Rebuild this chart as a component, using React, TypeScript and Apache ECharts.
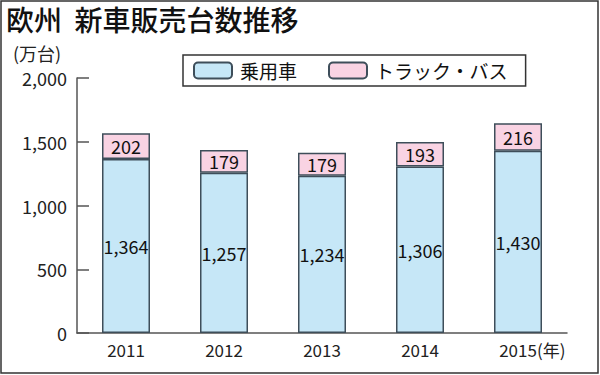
import React, { useEffect, useRef } from "react";
import * as echarts from "echarts";

const years = ["2011", "2012", "2013", "2014", "2015"];
const passengerCars = [1364, 1257, 1234, 1306, 1430];
const trucksBuses = [202, 179, 179, 193, 216];
const yTicks = [0, 500, 1000, 1500, 2000];

const FONT = '"Noto Sans CJK JP", "Noto Sans", sans-serif';

export default function App() {
  const ref = useRef<HTMLDivElement>(null);
  useEffect(() => {
    if (!ref.current) return;
    const chart = echarts.init(ref.current, null, { renderer: "svg" });
    const fmt = (v: number) => v.toLocaleString("en-US");
    chart.setOption({
      animation: false,
      backgroundColor: "#ffffff",
      textStyle: { fontFamily: FONT },
      title: {
        text: "欧州  新車販売台数推移",
        left: 6,
        top: 4,
        padding: 0,
        textStyle: { fontSize: 28, fontWeight: 500, color: "#111", fontFamily: FONT, lineHeight: 30 },
      },
      legend: {
        left: 183,
        top: 55,
        itemWidth: 38,
        itemHeight: 16,
        itemGap: 31,
        padding: [6, 18, 6, 10],
        borderColor: "#333",
        borderWidth: 1.5,
        borderRadius: 0,
        textStyle: { fontSize: 19, color: "#111", fontFamily: FONT, padding: [0, 0, 0, 3] },
        data: ["乗用車", "トラック・バス"],
      },
      grid: { left: 77, right: 33, top: 78, bottom: 42 },
      xAxis: {
        type: "category",
        data: years,
        axisLine: { lineStyle: { color: "#555", width: 1.5 } },
        axisTick: { show: false },
        axisLabel: { fontSize: 17, color: "#222", margin: 8, fontFamily: FONT },
      },
      yAxis: {
        type: "value",
        min: yTicks[0],
        max: yTicks[yTicks.length - 1],
        interval: 500,
        splitLine: { show: false },
        axisLine: { show: true, lineStyle: { color: "#555", width: 1.5 } },
        axisTick: { show: true, inside: true, length: 12, lineStyle: { color: "#555", width: 1.5 } },
        axisLabel: {
          fontSize: 18,
          color: "#222",
          margin: 10,
          fontFamily: FONT,
          formatter: (v: number) => fmt(v),
        },
      },
      series: [
        {
          name: "乗用車",
          type: "bar",
          stack: "total",
          barWidth: 48,
          data: passengerCars,
          itemStyle: { color: "#c6e7f7", borderColor: "#3e4e5a", borderWidth: 1.5 },
          label: {
            show: true,
            position: "inside",
            fontSize: 18,
            color: "#111",
            fontFamily: FONT,
            formatter: (p: any) => fmt(p.value),
          },
        },
        {
          name: "トラック・バス",
          type: "bar",
          stack: "total",
          barWidth: 48,
          data: trucksBuses,
          itemStyle: { color: "#f9d3e3", borderColor: "#3e4e5a", borderWidth: 1.5 },
          label: {
            show: true,
            position: "inside",
            fontSize: 18,
            color: "#111",
            fontFamily: FONT,
            formatter: (p: any) => fmt(p.value),
          },
        },
      ],
      graphic: [
        {
          type: "rect",
          shape: { x: 1, y: 1, width: 597, height: 372 },
          style: { fill: "none", stroke: "#333", lineWidth: 1.5 },
          silent: true,
        },
        {
          type: "text",
          x: 13,
          y: 44,
          style: { text: "(万台)", fontSize: 18, fill: "#222", fontFamily: FONT, lineHeight: 18 },
        },
        {
          type: "text",
          x: 537,
          y: 341,
          style: { text: "(年)", fontSize: 17, fill: "#222", fontFamily: FONT },
        },
      ],
    });
    return () => chart.dispose();
  }, []);
  return (
    <div
      ref={ref}
      style={{ position: "fixed", left: 0, top: 0, width: 600, height: 375 }}
    />
  );
}
